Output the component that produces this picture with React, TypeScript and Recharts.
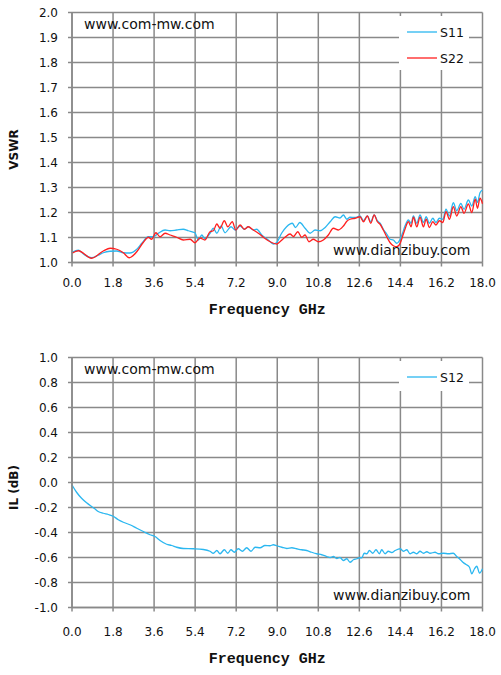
import { CartesianGrid, LineChart, Line, XAxis, YAxis, Legend } from "recharts";

// axis ticks
const freqTicks = [0, 1.8, 3.6, 5.4, 7.2, 9.0, 10.8, 12.6, 14.4, 16.2, 18.0];
const vswrTicks = [1.0, 1.1, 1.2, 1.3, 1.4, 1.5, 1.6, 1.7, 1.8, 1.9, 2.0];
const ilTicks = [-1.0, -0.8, -0.6, -0.4, -0.2, 0, 0.2, 0.4, 0.6, 0.8, 1.0];

// S11 (VSWR)
const s11Freq = [
  0.0, 0.28, 0.5, 0.86, 1.15, 1.37, 1.67, 1.96, 2.25, 2.54, 2.84, 3.06, 3.35, 3.57, 3.79, 4.08,
  4.3, 4.59, 4.88, 5.1, 5.39, 5.54, 5.69, 5.83, 6.05, 6.2, 6.35, 6.54, 6.71, 6.97, 7.16, 7.37,
  7.56, 7.73, 7.95, 8.1, 8.32, 8.61, 8.83, 8.98, 9.19, 9.41, 9.66, 9.8, 9.99, 10.22, 10.44, 10.66,
  10.88, 11.1, 11.32, 11.54, 11.75, 11.9, 12.05, 12.19, 12.41, 12.63, 12.78, 12.95, 13.1, 13.25,
  13.39, 13.51, 13.65, 13.8, 13.95, 14.09, 14.24, 14.39, 14.5, 14.6, 14.75, 14.87, 14.97, 15.12,
  15.26, 15.41, 15.53, 15.67, 15.82, 15.96, 16.11, 16.26, 16.4, 16.55, 16.72, 16.87, 17.05, 17.19,
  17.38, 17.53, 17.68, 17.78, 17.89, 18.0,
];
const s11Vswr = [
  1.041, 1.049, 1.034, 1.019, 1.029, 1.039, 1.045, 1.046, 1.039, 1.038, 1.053, 1.077, 1.103, 1.103,
  1.117, 1.13, 1.127, 1.13, 1.133, 1.127, 1.119, 1.09, 1.11, 1.095, 1.117, 1.137, 1.117, 1.146,
  1.119, 1.143, 1.13, 1.146, 1.133, 1.143, 1.13, 1.133, 1.11, 1.09, 1.074, 1.08, 1.117, 1.143,
  1.157, 1.14, 1.16, 1.137, 1.117, 1.13, 1.127, 1.14, 1.163, 1.183, 1.178, 1.19, 1.173, 1.181,
  1.18, 1.186, 1.167, 1.186, 1.163, 1.19, 1.167, 1.157, 1.133, 1.114, 1.093, 1.09, 1.077, 1.093,
  1.119, 1.146, 1.17, 1.157, 1.186, 1.157, 1.19, 1.16, 1.183, 1.157, 1.177, 1.16, 1.177, 1.173,
  1.213, 1.186, 1.239, 1.207, 1.236, 1.213, 1.25, 1.226, 1.263, 1.24, 1.279, 1.29,
];

// S22 (VSWR)
const s22Freq = [
  0.0, 0.28, 0.86, 1.37, 1.67, 1.96, 2.25, 2.51, 2.84, 3.13, 3.35, 3.49, 3.68, 3.86, 4.08, 4.3,
  4.59, 4.88, 5.18, 5.39, 5.61, 5.83, 6.05, 6.2, 6.35, 6.49, 6.68, 6.83, 7.03, 7.18, 7.37, 7.56,
  7.73, 7.95, 8.17, 8.39, 8.61, 8.83, 8.98, 9.12, 9.34, 9.56, 9.71, 9.9, 10.07, 10.22, 10.39,
  10.58, 10.8, 11.02, 11.24, 11.46, 11.68, 11.9, 12.05, 12.19, 12.41, 12.63, 12.78, 12.95, 13.1,
  13.25, 13.39, 13.51, 13.65, 13.8, 13.95, 14.09, 14.24, 14.39, 14.5, 14.6, 14.75, 14.87, 14.97,
  15.12, 15.26, 15.41, 15.53, 15.67, 15.82, 15.96, 16.11, 16.26, 16.4, 16.55, 16.72, 16.87, 17.05,
  17.19, 17.38, 17.53, 17.68, 17.78, 17.89, 18.0,
];
const s22Vswr = [
  1.037, 1.047, 1.017, 1.046, 1.057, 1.053, 1.039, 1.019, 1.043, 1.081, 1.101, 1.093, 1.119, 1.103,
  1.117, 1.11, 1.101, 1.09, 1.093, 1.079, 1.098, 1.09, 1.123, 1.127, 1.154, 1.137, 1.167, 1.143,
  1.163, 1.13, 1.15, 1.133, 1.143, 1.13, 1.117, 1.101, 1.087, 1.077, 1.074, 1.083, 1.101, 1.114,
  1.104, 1.123, 1.101, 1.11, 1.083, 1.093, 1.083, 1.09, 1.11, 1.137, 1.13, 1.146, 1.165, 1.173,
  1.177, 1.183, 1.163, 1.186, 1.157, 1.19, 1.163, 1.153, 1.13, 1.103, 1.079, 1.067, 1.063, 1.077,
  1.106, 1.133, 1.163, 1.143, 1.181, 1.143, 1.181, 1.143, 1.173, 1.14, 1.163, 1.15, 1.167, 1.16,
  1.203, 1.173, 1.223, 1.186, 1.223, 1.197, 1.234, 1.2, 1.253, 1.217, 1.257, 1.235,
];

// S12 insertion loss (dB)
const s12Freq = [
  0.0, 0.2, 0.42, 0.64, 0.86, 1.0, 1.15, 1.37, 1.59, 1.81, 2.03, 2.25, 2.54, 2.84, 3.13, 3.42,
  3.64, 3.86, 4.15, 4.37, 4.59, 4.88, 5.32, 5.76, 6.05, 6.2, 6.35, 6.49, 6.68, 6.83, 6.97, 7.12,
  7.29, 7.47, 7.66, 7.85, 8.03, 8.25, 8.46, 8.68, 8.83, 8.98, 9.2, 9.42, 9.64, 9.85, 10.07, 10.29,
  10.51, 10.73, 10.95, 11.17, 11.32, 11.46, 11.61, 11.75, 11.9, 12.05, 12.19, 12.34, 12.49, 12.6,
  12.71, 12.81, 12.93, 13.04, 13.19, 13.33, 13.48, 13.58, 13.73, 13.87, 14.02, 14.17, 14.39,
  14.53, 14.68, 14.82, 14.97, 15.12, 15.26, 15.41, 15.56, 15.7, 15.92, 16.07, 16.29, 16.51, 16.72,
  16.87, 16.99, 17.14, 17.28, 17.43, 17.53, 17.65, 17.75, 17.87, 18.0,
];
const s12Loss = [
  -0.02, -0.078, -0.126, -0.162, -0.192, -0.21, -0.232, -0.246, -0.256, -0.27, -0.298, -0.318,
  -0.338, -0.366, -0.392, -0.418, -0.432, -0.464, -0.494, -0.504, -0.518, -0.528, -0.53, -0.536,
  -0.55, -0.566, -0.544, -0.57, -0.538, -0.566, -0.538, -0.558, -0.53, -0.55, -0.522, -0.55,
  -0.518, -0.522, -0.504, -0.506, -0.498, -0.506, -0.518, -0.528, -0.522, -0.53, -0.538, -0.544,
  -0.558, -0.57, -0.578, -0.592, -0.6, -0.592, -0.608, -0.6, -0.624, -0.61, -0.638, -0.618, -0.61,
  -0.602, -0.602, -0.566, -0.57, -0.544, -0.566, -0.538, -0.57, -0.538, -0.57, -0.55, -0.56,
  -0.544, -0.53, -0.55, -0.538, -0.57, -0.558, -0.57, -0.55, -0.566, -0.554, -0.566, -0.558, -0.57,
  -0.566, -0.57, -0.566, -0.592, -0.61, -0.638, -0.656, -0.678, -0.73, -0.69, -0.67, -0.725, -0.69,
];

const toRows = (freq: number[], vals: number[]) => freq.map((f, i) => ({ freq: f, value: vals[i] }));

const GRID = "#898989";
const BLUE = "#2bb7f0";
const RED = "#ff1f1f";
const TEXT = "#111";
const SANS = "DejaVu Sans, sans-serif";

interface Series {
  name: string;
  color: string;
  data: { freq: number; value: number }[];
}

interface ChartProps {
  top: number;
  yTicks: number[];
  yTitle: string;
  yTitleShift: number;
  xTickMargin: number;
  xTitleDy: number;
  series: Series[];
  legendTop: number;
  legendHeight: number;
}

function SParamChart(props: ChartProps) {
  const { top, yTicks, yTitle, yTitleShift, xTickMargin, xTitleDy, series, legendTop, legendHeight } = props;
  return (
    <div style={{ position: "absolute", left: 0, top }}>
      <LineChart width={501} height={330} margin={{ top: 12.5, right: 18.5, bottom: 7.5, left: 0 }}>
        <CartesianGrid stroke={GRID} strokeWidth={1.5} />
        <XAxis
          type="number"
          dataKey="freq"
          domain={[0, 18]}
          ticks={freqTicks}
          interval={0}
          height={60}
          tickSize={4}
          tickMargin={xTickMargin}
          tickFormatter={(v: number) => v.toFixed(1)}
          tick={{ fill: TEXT, fontSize: 12, fontFamily: SANS }}
          axisLine={{ stroke: GRID, strokeWidth: 1.5 }}
          tickLine={{ stroke: GRID, strokeWidth: 1.5 }}
          label={{
            content: ({ viewBox }: any) => (
              <text
                x={viewBox.x + viewBox.width / 2 - 10}
                y={viewBox.y + xTitleDy}
                textAnchor="middle"
                fill={TEXT}
                fontSize={15}
                fontWeight="bold"
                fontFamily="Liberation Mono, monospace"
              >
                Frequency GHz
              </text>
            ),
          }}
        />
        <YAxis
          type="number"
          domain={[yTicks[0], yTicks[yTicks.length - 1]]}
          ticks={yTicks}
          interval={0}
          width={72}
          tickSize={4}
          tickMargin={10}
          tickFormatter={(v: number) => v.toFixed(1)}
          tick={{ fill: TEXT, fontSize: 12, fontFamily: SANS }}
          axisLine={{ stroke: GRID, strokeWidth: 1.5 }}
          tickLine={{ stroke: GRID, strokeWidth: 1.5 }}
          label={{
            content: ({ viewBox }: any) => {
              const cx = 17.5;
              const cy = viewBox.y + viewBox.height / 2 + yTitleShift;
              return (
                <text
                  x={cx}
                  y={cy}
                  transform={`rotate(-90 ${cx} ${cy})`}
                  textAnchor="middle"
                  fill={TEXT}
                  fontSize={12}
                  fontWeight="bold"
                  fontFamily={SANS}
                >
                  {yTitle}
                </text>
              );
            },
          }}
        />
        <Legend
          verticalAlign="middle"
          align="center"
          wrapperStyle={{ left: 399, top: legendTop, width: 70, height: legendHeight, background: "#fff" }}
          content={({ payload }: any) => (
            <div style={{ paddingTop: 3 }}>
              {(payload || []).map((p: any) => (
                <div key={p.value} style={{ display: "flex", alignItems: "center", height: 26 }}>
                  <svg width={38} height={4} style={{ flex: "none" }}>
                    <line x1={8} x2={38} y1={2} y2={2} stroke={p.color} strokeWidth={1.3} />
                  </svg>
                  <span style={{ marginLeft: 3, fontSize: 12.5, fontFamily: SANS, color: TEXT }}>{p.value}</span>
                </div>
              ))}
            </div>
          )}
        />
        {series.map((s) => (
          <Line
            key={s.name}
            data={s.data}
            dataKey="value"
            name={s.name}
            type="monotone"
            stroke={s.color}
            strokeWidth={1.3}
            dot={false}
            legendType="line"
            isAnimationActive={false}
          />
        ))}
      </LineChart>
      <div style={{ position: "absolute", left: 84, top: 14, fontSize: 14, fontFamily: SANS, color: TEXT, lineHeight: "20px" }}>
        www.com-mw.com
      </div>
      <div style={{ position: "absolute", left: 333, top: 240, fontSize: 14, fontFamily: SANS, color: TEXT, lineHeight: "20px" }}>
        www.dianzibuy.com
      </div>
    </div>
  );
}

export default function App() {
  const vswrSeries: Series[] = [
    { name: "S11", color: BLUE, data: toRows(s11Freq, s11Vswr) },
    { name: "S22", color: RED, data: toRows(s22Freq, s22Vswr) },
  ];
  const ilSeries: Series[] = [{ name: "S12", color: BLUE, data: toRows(s12Freq, s12Loss) }];

  return (
    <div style={{ position: "absolute", left: 0, top: 0, width: 501, height: 675, background: "#fff" }}>
      <SParamChart
        top={0}
        yTicks={vswrTicks}
        yTitle="VSWR"
        yTitleShift={12}
        xTickMargin={11.5}
        xTitleDy={51.5}
        series={vswrSeries}
        legendTop={16}
        legendHeight={54}
      />
      <SParamChart
        top={345}
        yTicks={ilTicks}
        yTitle="IL (dB)"
        yTitleShift={5}
        xTickMargin={16}
        xTitleDy={55.5}
        series={ilSeries}
        legendTop={16}
        legendHeight={30}
      />
    </div>
  );
}
